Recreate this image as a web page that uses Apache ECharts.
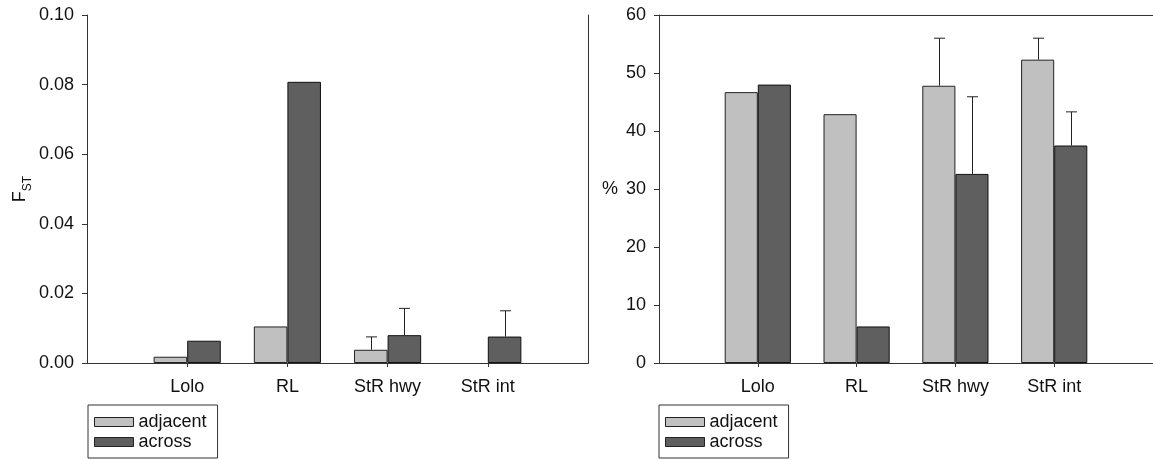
<!DOCTYPE html>
<html>
<head>
<meta charset="utf-8">
<script src="https://cdn.jsdelivr.net/npm/echarts@6/dist/echarts.min.js"></script>
<style>
html,body{margin:0;padding:0;background:#fff;}
#chart{width:1153px;height:460px;}
</style>
</head>
<body>
<div id="chart"></div>
<script>
// ---- data ----
const categories = ['Lolo', 'RL', 'StR hwy', 'StR int'];
const seriesNames = ['adjacent', 'across'];
// F_ST panel
const fstAdjacent = [0.0018, 0.0105, 0.0038, 0];
const fstAcross = [0.0064, 0.0808, 0.0080, 0.0076];
const fstAdjacentErr = [null, null, 0.0037, null];
const fstAcrossErr = [null, null, 0.0077, 0.0074];
const fstTicks = [0, 0.02, 0.04, 0.06, 0.08, 0.10];
// % panel
const pctAdjacent = [46.7, 42.9, 47.8, 52.3];
const pctAcross = [48.0, 6.3, 32.6, 37.5];
const pctAdjacentErr = [null, null, 8.2, 3.7];
const pctAcrossErr = [null, null, 13.3, 5.8];
const pctTicks = [0, 10, 20, 30, 40, 50, 60];

// ---- styling ----
const FONT = 'Liberation Sans, Arial, sans-serif';
const AXIS = '#333';
const LIGHT = '#c0c0c0';
const DARK = '#5f5f5f';

const axisData = [''].concat(categories, [' ']);
const pad = arr => ['-'].concat(arr.map(v => (v === 0 ? '-' : v)), ['-']);
const isCat = i => i >= 1 && i <= categories.length;

function errData(vals, errs) {
  const out = [];
  errs.forEach((e, i) => { if (e != null) out.push([categories[i], vals[i], e]); });
  return out;
}
function errRender(sign) {
  return function (params, api) {
    const x = api.value(0), v = api.value(1), e = api.value(2);
    const base = api.coord([x, v]);
    const top = api.coord([x, v + e]);
    const band = api.size([1, 0])[0];
    const cx = Math.round(base[0] + sign * band * 0.1675) + 0.5;
    const st = { stroke: '#222', lineWidth: 1 };
    return {
      type: 'group',
      children: [
        { type: 'line', shape: { x1: cx, y1: base[1], x2: cx, y2: top[1] }, style: st },
        { type: 'line', shape: { x1: cx - 5.5, y1: top[1], x2: cx + 5.5, y2: top[1] }, style: st }
      ]
    };
  };
}

function xAxes(gi) {
  return [{
    type: 'category', gridIndex: gi, data: axisData, boundaryGap: false,
    axisLine: { show: true, lineStyle: { color: AXIS, width: 1 } },
    axisTick: { show: true, length: 4, inside: false, interval: isCat, lineStyle: { color: AXIS } },
    axisLabel: { show: true, interval: isCat, margin: 15, fontSize: 18, fontFamily: FONT, color: '#111' },
    splitLine: { show: false }
  }, {
    type: 'category', gridIndex: gi, data: axisData, boundaryGap: false, position: 'top',
    axisLine: { show: true, lineStyle: { color: AXIS, width: 1 } },
    axisTick: { show: false }, axisLabel: { show: false }, splitLine: { show: false }
  }];
}

function legendAt(left) {
  return {
    data: seriesNames, orient: 'vertical', left: left, top: 405, icon: 'rect',
    borderColor: AXIS, borderWidth: 1, padding: [8, 11, 7, 6],
    itemWidth: 39, itemHeight: 9, itemGap: 2, selectedMode: false,
    itemStyle: { borderColor: '#222', borderWidth: 1 },
    textStyle: { fontSize: 18, fontFamily: FONT, color: '#111', lineHeight: 18 }
  };
}

const option = {
  animation: false,
  backgroundColor: '#fff',
  grid: [
    { left: 87, top: 15, width: 501, height: 348, containLabel: false, outerBoundsMode: 'none' },
    { left: 659, top: 15, width: 494, height: 348, containLabel: false, outerBoundsMode: 'none' }
  ],
  xAxis: xAxes(0).concat(xAxes(1)),
  yAxis: [
    {
      type: 'value', gridIndex: 0, min: fstTicks[0], max: fstTicks[fstTicks.length - 1], interval: 0.02,
      name: '{f|F}{s|ST}', nameLocation: 'middle', nameRotate: 90, nameGap: 58,
      nameTextStyle: {
        rich: {
          f: { fontSize: 18, fontFamily: FONT, color: '#111', verticalAlign: 'bottom', lineHeight: 20 },
          s: { fontSize: 12, fontFamily: FONT, color: '#111', verticalAlign: 'bottom', lineHeight: 20, padding: [0, 0, -5, 0] }
        }
      },
      axisLine: { show: true, lineStyle: { color: AXIS } },
      axisTick: { show: true, length: 5, lineStyle: { color: AXIS } },
      axisLabel: { margin: 13, fontSize: 18, fontFamily: FONT, color: '#111', formatter: v => v.toFixed(2) },
      splitLine: { show: false }
    },
    {
      type: 'value', gridIndex: 0, min: 0, max: 0.1, interval: 0.02, position: 'right',
      axisLine: { show: true, lineStyle: { color: AXIS } },
      axisTick: { show: false }, axisLabel: { show: false }, splitLine: { show: false }
    },
    {
      type: 'value', gridIndex: 1, min: pctTicks[0], max: pctTicks[pctTicks.length - 1], interval: 10,
      name: '%', nameLocation: 'middle', nameRotate: 0, nameGap: 41,
      nameTextStyle: { fontSize: 18, fontFamily: FONT, color: '#111', align: 'right', verticalAlign: 'middle' },
      axisLine: { show: true, lineStyle: { color: AXIS } },
      axisTick: { show: true, length: 5, lineStyle: { color: AXIS } },
      axisLabel: { margin: 13, fontSize: 18, fontFamily: FONT, color: '#111' },
      splitLine: { show: false }
    }
  ],
  legend: [legendAt(88), legendAt(659)],
  series: [
    { name: 'adjacent', type: 'bar', xAxisIndex: 0, yAxisIndex: 0, data: pad(fstAdjacent), barWidth: '33.5%', barGap: '0%',
      itemStyle: { color: LIGHT, borderColor: '#222', borderWidth: 1 } },
    { name: 'across', type: 'bar', xAxisIndex: 0, yAxisIndex: 0, data: pad(fstAcross), barWidth: '33.5%', barGap: '0%',
      itemStyle: { color: DARK, borderColor: '#111', borderWidth: 1 } },
    { name: 'adjacent', type: 'bar', xAxisIndex: 2, yAxisIndex: 2, data: pad(pctAdjacent), barWidth: '33.5%', barGap: '0%',
      itemStyle: { color: LIGHT, borderColor: '#222', borderWidth: 1 } },
    { name: 'across', type: 'bar', xAxisIndex: 2, yAxisIndex: 2, data: pad(pctAcross), barWidth: '33.5%', barGap: '0%',
      itemStyle: { color: DARK, borderColor: '#111', borderWidth: 1 } },
    { name: 'errA1', type: 'custom', xAxisIndex: 0, yAxisIndex: 0, renderItem: errRender(-1), data: errData(fstAdjacent, fstAdjacentErr), z: 5 },
    { name: 'errB1', type: 'custom', xAxisIndex: 0, yAxisIndex: 0, renderItem: errRender(1), data: errData(fstAcross, fstAcrossErr), z: 5 },
    { name: 'errA2', type: 'custom', xAxisIndex: 2, yAxisIndex: 2, renderItem: errRender(-1), data: errData(pctAdjacent, pctAdjacentErr), z: 5 },
    { name: 'errB2', type: 'custom', xAxisIndex: 2, yAxisIndex: 2, renderItem: errRender(1), data: errData(pctAcross, pctAcrossErr), z: 5 }
  ]
};

const chart = echarts.init(document.getElementById('chart'), null, { renderer: 'canvas' });
chart.setOption(option);
</script>
</body>
</html>
